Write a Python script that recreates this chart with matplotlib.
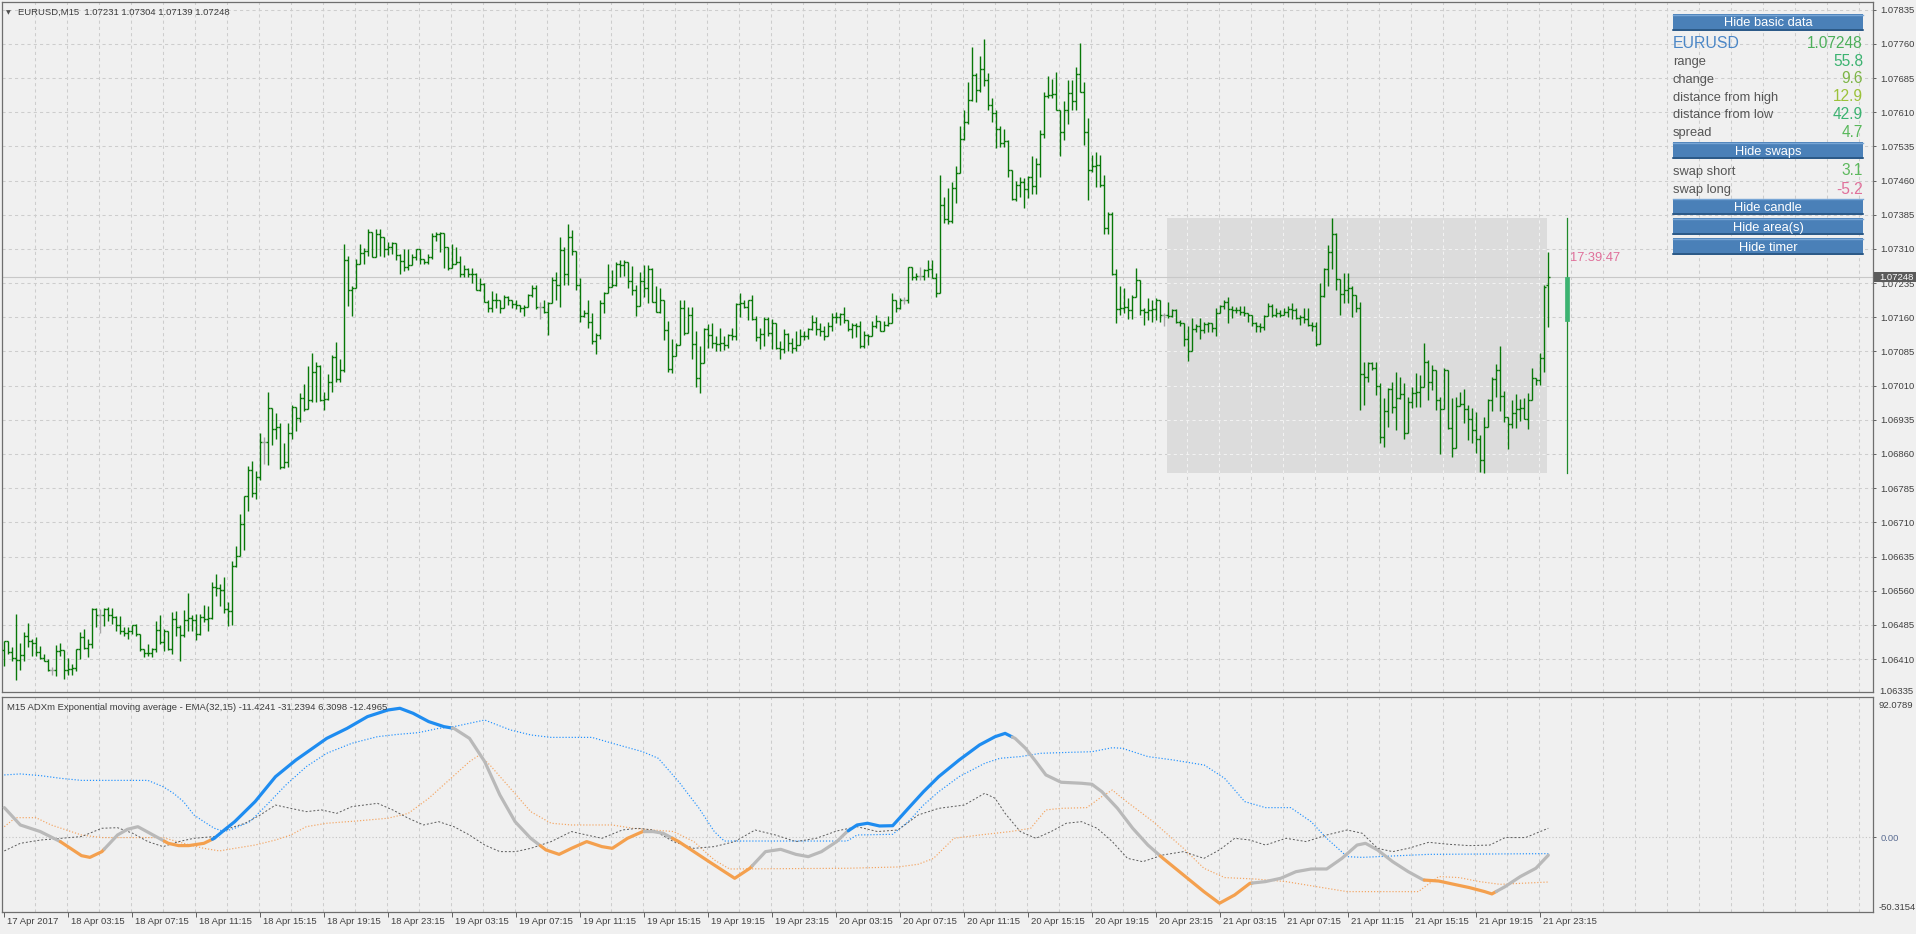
import numpy as np
import matplotlib
matplotlib.use("Agg")
import matplotlib.pyplot as plt
from matplotlib.collections import LineCollection
from matplotlib.patches import Rectangle
from matplotlib.transforms import blended_transform_factory, offset_copy

plt.rcParams['font.family'] = ['Liberation Sans', 'DejaVu Sans']

# ---------------- data (prices in pips above BASE) ----------------
BASE = 1.06000
PIP = 0.0001
SYMBOL = "EURUSD"
TITLE = "EURUSD,M15  1.07231 1.07304 1.07139 1.07248"

HIGH = [44.9, 44.9, 43.6, 50.8, 44.6, 47.0, 48.9, 45.5, 45.8, 43.9,
        42.2, 41.0, 39.3, 44.1, 44.5, 41.4, 41.2, 39.9, 43.2, 46.9,
        47.5, 45.3, 52.1, 52.2, 51.9, 52.1, 52.4, 52.2, 50.5, 50.5,
        48.1, 48.0, 48.5, 48.7, 46.6, 43.2, 44.4, 43.4, 49.4, 50.7,
        47.5, 46.9, 51.4, 51.6, 48.5, 51.8, 55.4, 50.7, 50.9, 50.9,
        52.9, 52.7, 57.9, 59.6, 57.4, 59.1, 53.5, 62.6, 65.9, 72.8,
        76.7, 83.3, 84.5, 82.3, 90.5, 89.8, 99.6, 96.2, 94.9, 92.9,
        88.5, 92.9, 96.7, 96.4, 99.3, 101.4, 105.4, 108.2, 106.1, 105.6,
        99.5, 103.6, 107.7, 110.5, 106.9, 132.2, 129.4, 122.8, 128.9, 132.0,
        131.2, 135.3, 134.7, 135.3, 135.3, 133.6, 132.5, 132.5, 131.4, 130.0,
        131.0, 131.0, 130.0, 131.1, 131.1, 128.9, 129.9, 134.4, 134.8, 134.8,
        132.0, 130.8, 132.1, 131.4, 129.5, 127.5, 126.8, 126.8, 125.7, 124.6,
        123.5, 119.9, 121.8, 121.3, 119.8, 120.9, 120.7, 119.9, 119.8, 118.5,
        118.7, 121.1, 123.1, 123.1, 119.4, 119.8, 119.4, 124.8, 125.9, 133.6,
        131.5, 136.5, 135.2, 130.4, 124.6, 117.6, 119.8, 117.0, 112.5, 119.8,
        121.6, 127.7, 126.4, 128.2, 128.6, 128.6, 128.1, 127.3, 123.1, 126.0,
        127.5, 127.5, 126.8, 122.9, 122.4, 119.8, 115.3, 111.2, 110.3, 119.8,
        119.8, 118.3, 118.3, 113.0, 109.6, 113.6, 114.5, 114.7, 111.8, 113.7,
        111.8, 112.3, 113.6, 119.1, 121.3, 119.9, 119.9, 120.9, 116.3, 113.6,
        116.0, 116.0, 115.6, 114.8, 110.8, 113.4, 112.5, 111.4, 112.9, 113.4,
        112.9, 113.6, 116.5, 116.1, 114.7, 114.1, 114.9, 116.9, 117.2, 117.0,
        118.2, 115.3, 114.7, 114.8, 115.3, 113.0, 112.3, 115.1, 116.5, 115.1,
        115.1, 116.3, 121.4, 119.9, 120.2, 120.5, 127.1, 127.0, 125.7, 127.1,
        126.5, 128.6, 128.6, 125.7, 147.2, 142.5, 144.3, 145.8, 149.2, 158.0,
        161.6, 167.6, 175.3, 169.7, 173.4, 177.1, 169.7, 164.1, 161.5, 158.0,
        157.3, 154.9, 148.3, 145.9, 146.9, 146.5, 147.0, 151.4, 150.9, 157.1,
        165.5, 169.0, 168.2, 169.9, 161.5, 163.5, 168.1, 168.1, 171.0, 176.3,
        167.7, 159.7, 151.6, 152.3, 151.6, 147.2, 139.2, 139.2, 126.5, 122.9,
        122.4, 120.2, 120.9, 126.8, 124.2, 118.0, 120.2, 119.8, 120.2, 118.3,
        116.9, 119.4, 117.8, 117.8, 115.4, 114.7, 114.0, 115.8, 114.5, 115.8,
        115.0, 115.0, 114.7, 118.0, 118.7, 119.9, 120.5, 118.5, 118.3, 118.5,
        118.5, 116.7, 116.5, 115.0, 114.7, 116.5, 119.2, 118.9, 118.0, 117.6,
        118.0, 118.5, 119.1, 118.0, 116.5, 118.0, 118.0, 115.0, 115.0, 123.5,
        126.8, 131.9, 137.7, 134.4, 124.2, 125.8, 125.8, 122.9, 120.9, 119.4,
        106.3, 106.3, 106.3, 106.3, 101.5, 98.2, 100.4, 101.9, 104.1, 103.0,
        101.5, 98.6, 100.8, 103.7, 103.4, 110.3, 106.6, 105.5, 104.4, 98.6,
        104.8, 103.7, 98.2, 98.6, 99.5, 100.2, 96.8, 96.0, 95.3, 90.2,
        94.2, 98.0, 103.0, 105.8, 109.6, 99.8, 94.2, 97.9, 99.2, 98.0,
        98.2, 99.3, 104.8, 102.6, 108.1, 123.1, 130.4]

LOW = [39.5, 42.1, 40.5, 36.5, 38.6, 40.6, 43.6, 41.7, 41.7, 40.9,
       40.6, 38.3, 37.5, 37.3, 41.7, 36.7, 37.5, 37.5, 38.3, 40.9,
       43.2, 41.4, 43.4, 48.0, 46.8, 48.2, 49.4, 48.7, 47.2, 46.5,
       46.1, 45.5, 46.5, 46.1, 42.8, 41.4, 41.7, 41.4, 42.5, 44.4,
       42.7, 43.0, 42.1, 46.1, 40.6, 45.9, 47.2, 47.2, 45.2, 46.3,
       49.1, 47.2, 49.8, 54.9, 52.7, 51.0, 48.3, 48.5, 61.2, 64.1,
       65.0, 73.5, 76.6, 76.2, 80.4, 83.8, 83.5, 87.9, 89.3, 82.6,
       82.9, 83.2, 89.3, 91.0, 93.1, 95.5, 95.8, 97.5, 97.5, 97.7,
       95.6, 97.8, 99.7, 101.7, 101.7, 104.0, 118.5, 116.2, 122.4, 127.6,
       127.7, 129.4, 129.3, 129.2, 129.5, 129.3, 129.7, 129.9, 128.6, 125.5,
       126.2, 126.4, 128.0, 128.6, 127.8, 127.8, 127.8, 128.9, 132.8, 130.4,
       126.8, 126.4, 127.5, 127.8, 124.8, 124.9, 124.8, 123.5, 122.0, 121.8,
       119.3, 117.2, 117.2, 118.0, 117.0, 118.0, 118.7, 118.0, 117.8, 117.2,
       116.3, 118.5, 120.5, 117.8, 115.6, 117.0, 112.2, 119.8, 119.9, 118.3,
       123.1, 123.1, 129.7, 122.0, 115.0, 116.1, 113.6, 110.1, 107.9, 111.2,
       116.9, 121.6, 122.6, 122.9, 124.8, 125.1, 122.4, 121.0, 116.3, 119.8,
       120.4, 119.2, 119.4, 117.2, 116.9, 111.0, 103.9, 103.7, 107.4, 110.1,
       112.1, 112.5, 106.8, 100.8, 99.3, 105.9, 109.2, 109.2, 108.5, 108.5,
       108.8, 109.2, 111.0, 111.0, 116.1, 118.0, 115.4, 115.4, 110.7, 109.0,
       109.8, 111.8, 109.0, 109.0, 106.9, 108.2, 108.5, 108.2, 108.6, 111.0,
       111.0, 111.2, 113.2, 112.1, 111.8, 111.0, 112.3, 112.9, 114.7, 114.3,
       114.7, 112.9, 111.5, 111.6, 109.2, 109.2, 109.9, 112.1, 113.6, 112.9,
       112.9, 114.0, 115.1, 117.2, 117.9, 118.9, 119.1, 124.2, 124.2, 124.1,
       124.3, 124.9, 124.6, 120.5, 121.3, 136.6, 136.5, 136.6, 141.2, 147.6,
       155.0, 158.4, 163.5, 163.3, 165.5, 166.8, 161.5, 158.9, 153.1, 153.4,
       153.3, 146.9, 141.7, 141.6, 142.5, 140.1, 142.1, 143.0, 143.0, 146.9,
       155.3, 164.1, 164.1, 161.5, 151.4, 154.9, 158.4, 161.5, 161.5, 165.4,
       153.8, 141.7, 148.0, 144.7, 144.7, 134.3, 134.3, 125.3, 114.7, 116.5,
       116.9, 115.6, 115.6, 120.4, 116.5, 114.3, 115.4, 115.0, 115.4, 115.0,
       114.1, 115.8, 116.1, 114.7, 114.0, 109.7, 106.4, 108.5, 112.8, 111.2,
       112.6, 112.8, 112.8, 111.8, 116.9, 117.8, 114.8, 115.8, 116.9, 116.5,
       116.3, 115.0, 114.1, 112.8, 112.8, 113.2, 116.2, 116.1, 116.0, 116.1,
       116.5, 116.1, 115.6, 115.6, 114.3, 114.8, 114.0, 113.0, 109.7, 110.3,
       120.5, 122.9, 126.5, 122.0, 116.5, 119.1, 119.1, 116.0, 117.2, 95.7,
       96.8, 101.9, 104.4, 99.0, 88.5, 87.5, 92.0, 94.9, 91.3, 98.1,
       89.2, 96.0, 96.0, 96.4, 96.4, 100.6, 97.9, 100.0, 95.7, 86.0,
       96.0, 91.4, 85.4, 92.7, 96.8, 92.7, 89.1, 88.5, 86.2, 82.1,
       81.9, 92.0, 95.5, 98.6, 95.5, 93.1, 87.0, 91.6, 91.6, 93.3,
       93.6, 91.4, 98.0, 101.1, 101.1, 103.9, 113.9]

CLOSE = [44.9, 42.5, 41.2, 40.8, 41.9, 46.1, 44.9, 44.5, 42.5, 41.3,
         40.6, 38.6, 38.6, 42.7, 42.9, 38.6, 38.9, 39.1, 43.1, 45.8,
         43.4, 44.2, 51.9, 50.7, 50.7, 52.0, 50.7, 50.3, 48.5, 47.2,
         46.8, 47.1, 48.4, 46.6, 43.1, 42.4, 42.3, 43.2, 47.4, 44.7,
         47.1, 43.2, 49.8, 48.0, 46.3, 49.6, 49.9, 49.5, 46.4, 50.2,
         49.7, 49.9, 56.8, 56.5, 56.2, 52.0, 51.6, 61.5, 63.7, 70.7,
         76.7, 82.4, 77.5, 81.0, 88.6, 88.6, 96.2, 91.4, 92.0, 83.2,
         84.3, 90.5, 96.4, 93.8, 98.2, 95.8, 97.8, 103.9, 105.4, 97.8,
         98.0, 101.7, 107.2, 102.5, 104.4, 128.6, 122.0, 122.5, 127.8, 130.1,
         130.5, 134.8, 129.3, 134.2, 133.6, 131.1, 131.4, 132.4, 129.7, 128.4,
         127.1, 127.5, 129.2, 130.9, 128.7, 128.1, 129.2, 133.9, 134.2, 134.4,
         131.4, 126.8, 127.8, 128.2, 125.5, 126.5, 125.5, 125.4, 122.0, 123.3,
         119.3, 118.0, 119.9, 119.7, 118.0, 120.5, 119.8, 118.9, 118.8, 118.0,
         118.3, 120.8, 122.4, 118.3, 118.3, 117.2, 119.2, 124.2, 123.2, 130.8,
         125.5, 133.7, 130.6, 123.1, 116.3, 117.0, 115.0, 110.8, 112.1, 119.2,
         121.3, 122.7, 123.1, 127.7, 127.5, 128.2, 124.0, 122.1, 118.5, 124.0,
         122.4, 126.6, 119.4, 117.2, 119.9, 113.2, 104.6, 107.5, 110.0, 118.0,
         112.5, 116.5, 110.1, 102.6, 105.9, 113.4, 112.1, 110.3, 110.2, 110.4,
         110.0, 112.1, 111.8, 118.9, 119.2, 118.3, 119.8, 115.6, 111.6, 112.3,
         115.6, 112.5, 114.7, 109.2, 109.0, 112.3, 110.3, 109.2, 109.9, 111.8,
         111.9, 113.4, 114.9, 113.4, 113.0, 111.9, 114.2, 116.0, 116.1, 116.7,
         115.4, 113.4, 114.3, 114.1, 109.7, 112.1, 112.0, 114.1, 115.1, 113.0,
         114.3, 114.7, 119.8, 118.0, 119.9, 119.9, 127.0, 124.9, 125.1, 125.1,
         126.4, 126.5, 124.6, 121.4, 140.7, 137.6, 137.2, 144.3, 147.6, 155.1,
         158.9, 163.7, 169.2, 165.9, 170.4, 168.1, 162.6, 160.8, 157.3, 154.3,
         154.6, 148.3, 141.9, 145.1, 145.8, 144.1, 146.9, 144.8, 149.6, 156.2,
         164.6, 164.7, 165.0, 161.6, 156.7, 161.6, 165.2, 163.5, 169.5, 165.5,
         156.7, 148.3, 149.2, 149.4, 145.1, 135.5, 138.6, 125.4, 117.8, 118.0,
         118.2, 117.5, 120.5, 124.2, 117.5, 117.2, 117.6, 117.8, 119.8, 116.5,
         116.5, 116.2, 117.6, 115.0, 114.7, 111.2, 108.5, 113.4, 114.1, 113.2,
         114.5, 114.7, 113.6, 116.9, 118.5, 119.4, 117.8, 117.6, 117.5, 117.1,
         116.9, 116.5, 114.7, 114.1, 113.8, 116.3, 118.5, 116.5, 116.9, 116.6,
         117.2, 117.8, 117.7, 115.8, 116.0, 115.6, 114.3, 114.1, 110.2, 120.7,
         126.6, 130.4, 134.2, 124.4, 121.1, 122.0, 122.4, 120.9, 118.0, 103.5,
         103.0, 105.9, 104.8, 100.9, 89.8, 95.5, 100.2, 96.3, 98.2, 99.1,
         90.5, 97.5, 99.3, 99.5, 100.8, 106.3, 101.9, 104.4, 97.9, 95.8,
         104.4, 91.6, 87.3, 96.5, 97.0, 95.8, 93.6, 91.3, 89.2, 84.7,
         92.0, 97.9, 102.4, 104.4, 98.7, 94.2, 92.6, 94.9, 95.8, 96.0,
         93.6, 97.9, 102.6, 102.3, 107.0, 122.7, 124.8]

OPEN = [43.0, 44.9, 42.5, 41.2, 40.8, 41.9, 46.1, 44.9, 44.5, 42.5,
        41.3, 40.6, 38.6, 38.6, 42.7, 42.9, 38.6, 38.9, 39.1, 43.1,
        45.8, 43.4, 44.2, 51.9, 50.7, 50.7, 52.0, 50.7, 50.3, 48.5,
        47.2, 46.8, 47.1, 48.4, 46.6, 43.1, 42.4, 42.3, 43.2, 47.4,
        44.7, 47.1, 43.2, 49.8, 48.0, 46.3, 49.6, 49.9, 49.5, 46.4,
        50.2, 49.7, 49.9, 56.8, 56.5, 56.2, 52.0, 51.6, 61.5, 63.7,
        70.7, 76.7, 82.4, 77.5, 81.0, 88.6, 88.6, 96.2, 91.4, 92.0,
        83.2, 84.3, 90.5, 96.4, 93.8, 98.2, 95.8, 97.8, 103.9, 105.4,
        97.8, 98.0, 101.7, 107.2, 102.5, 104.4, 128.6, 122.0, 122.5, 127.8,
        130.1, 130.5, 134.8, 129.3, 134.2, 133.6, 131.1, 131.4, 132.4, 129.7,
        128.4, 127.1, 127.5, 129.2, 130.9, 128.7, 128.1, 129.2, 133.9, 134.2,
        134.4, 131.4, 126.8, 127.8, 128.2, 125.5, 126.5, 125.5, 125.4, 122.0,
        123.3, 119.3, 118.0, 119.9, 119.7, 118.0, 120.5, 119.8, 118.9, 118.8,
        118.0, 118.3, 120.8, 122.4, 118.3, 118.3, 117.2, 119.2, 124.2, 123.2,
        130.8, 125.5, 133.7, 130.6, 123.1, 116.3, 117.0, 115.0, 110.8, 112.1,
        119.2, 121.3, 122.7, 123.1, 127.7, 127.5, 128.2, 124.0, 122.1, 118.5,
        124.0, 122.4, 126.6, 119.4, 117.2, 119.9, 113.2, 104.6, 107.5, 110.0,
        118.0, 112.5, 116.5, 110.1, 102.6, 105.9, 113.4, 112.1, 110.3, 110.2,
        110.4, 110.0, 112.1, 111.8, 118.9, 119.2, 118.3, 119.8, 115.6, 111.6,
        112.3, 115.6, 112.5, 114.7, 109.2, 109.0, 112.3, 110.3, 109.2, 109.9,
        111.8, 111.9, 113.4, 114.9, 113.4, 113.0, 111.9, 114.2, 116.0, 116.1,
        116.7, 115.4, 113.4, 114.3, 114.1, 109.7, 112.1, 112.0, 114.1, 115.1,
        113.0, 114.3, 114.7, 119.8, 118.0, 119.9, 119.9, 127.0, 124.9, 125.1,
        125.1, 126.4, 126.5, 124.6, 121.4, 140.7, 137.6, 137.2, 144.3, 147.6,
        155.1, 158.9, 163.7, 169.2, 165.9, 170.4, 168.1, 162.6, 160.8, 157.3,
        154.3, 154.6, 148.3, 141.9, 145.1, 145.8, 144.1, 146.9, 144.8, 149.6,
        156.2, 164.6, 164.7, 165.0, 161.6, 156.7, 161.6, 165.2, 163.5, 169.5,
        165.5, 156.7, 148.3, 149.2, 149.4, 145.1, 135.5, 138.6, 125.4, 117.8,
        118.0, 118.2, 117.5, 120.5, 124.2, 117.5, 117.2, 117.6, 117.8, 119.8,
        116.5, 116.5, 116.2, 117.6, 115.0, 114.7, 111.2, 108.5, 113.4, 114.1,
        113.2, 114.5, 114.7, 113.6, 116.9, 118.5, 119.4, 117.8, 117.6, 117.5,
        117.1, 116.9, 116.5, 114.7, 114.1, 113.8, 116.3, 118.5, 116.5, 116.9,
        116.6, 117.2, 117.8, 117.7, 115.8, 116.0, 115.6, 114.3, 114.1, 110.2,
        120.7, 126.6, 130.4, 134.2, 124.4, 121.1, 122.0, 122.4, 120.9, 118.0,
        103.5, 103.0, 105.9, 104.8, 100.9, 89.8, 95.5, 100.2, 96.3, 98.2,
        99.1, 90.5, 97.5, 99.3, 99.5, 100.8, 106.3, 101.9, 104.4, 97.9,
        95.8, 104.4, 91.6, 87.3, 96.5, 97.0, 95.8, 93.6, 91.3, 89.2,
        84.7, 92.0, 97.9, 102.4, 104.4, 98.7, 94.2, 92.6, 94.9, 95.8,
        96.0, 93.6, 97.9, 102.6, 102.3, 107.0, 123.1]

TIME_LABELS = ["17 Apr 2017", "18 Apr 03:15", "18 Apr 07:15", "18 Apr 11:15", "18 Apr 15:15",
               "18 Apr 19:15", "18 Apr 23:15", "19 Apr 03:15", "19 Apr 07:15", "19 Apr 11:15",
               "19 Apr 15:15", "19 Apr 19:15", "19 Apr 23:15", "20 Apr 03:15", "20 Apr 07:15",
               "20 Apr 11:15", "20 Apr 15:15", "20 Apr 19:15", "20 Apr 23:15", "21 Apr 03:15",
               "21 Apr 07:15", "21 Apr 11:15", "21 Apr 15:15", "21 Apr 19:15", "21 Apr 23:15"]
BARS_PER_LABEL = 16
BARS_PER_GRID = 8

PRICE_TICKS = [1.07835, 1.07760, 1.07685, 1.07610, 1.07535, 1.07460, 1.07385, 1.07310,
               1.07235, 1.07160, 1.07085, 1.07010, 1.06935, 1.06860, 1.06785, 1.06710,
               1.06635, 1.06560, 1.06485, 1.06410]
BOTTOM_PRICE = "1.06335"
LAST_PRICE = 1.07248
DAY_OPEN, DAY_HIGH, DAY_LOW = 1.07152, 1.07377, 1.06819
DAY_START_BAR = 291

# indicator (bar index, value)
IND_TITLE = "M15 ADXm Exponential moving average - EMA(32,15) -11.4241 -31.2394 6.3098 -12.4965"
IND_MAX, IND_MIN = 92.0789, -50.3154
MAIN = [(0, 20.7), (4, 8.6), (9, 4.0), (14, -3.0), (19.3, -12.8), (21.4, -14.0), (24.4, -10.0),
        (28.3, 1.6), (30.8, 5.6), (33.4, 7.4), (37.2, 1.6), (41, -4.2), (43.6, -5.8), (46.1, -5.8),
        (49.9, -4.2), (52.5, -0.7), (55, 5.1), (57.6, 10.9), (62.7, 24.9), (67.8, 42.3), (72.9, 53.9),
        (80.6, 69.0), (85.7, 76.0), (90.8, 84.2), (95.9, 88.8), (98.9, 90.0), (102.2, 86.5),
        (106.1, 80.7), (109.9, 77.2), (112.4, 76.0), (116.3, 69.0), (120.1, 52.8), (123.9, 29.5),
        (127.7, 10.9), (131.6, -0.7), (135.4, -8.8), (138.7, -11.9), (141.8, -7.7), (145.6, -3.0),
        (149.4, -6.5), (152, -7.7), (155.8, -0.7), (159.6, 4.0), (162.2, 4.0), (164.7, 2.8),
        (168.6, -3.0), (172.4, -10.0), (176.2, -17.0), (180, -23.9), (182.6, -28.6), (186.4, -21.6),
        (190.3, -10.0), (194.1, -8.4), (197.9, -11.9), (201, -13.5), (204.3, -10.0), (208.1, -3.0),
        (210.7, 4.0), (213.2, 8.6), (215.8, 9.8), (218.8, 7.9), (222.1, 8.1), (226, 20.2),
        (229.8, 31.8), (233.6, 42.3), (238.7, 53.9), (243.8, 64.4), (247.7, 70.2), (250.2, 72.5),
        (252.7, 69.0), (255.3, 62.1), (257.9, 52.8), (260.4, 43.5), (264.2, 38.4), (269.3, 37.7),
        (271.9, 37.0), (274.4, 31.8), (278.3, 20.2), (282.1, 6.3), (285.9, -5.4), (289.7, -14.7),
        (294.8, -26.3), (299.9, -37.9), (303.8, -46.0), (307.6, -40.2), (311.4, -32.1),
        (315.3, -30.9), (319.1, -28.6), (322.9, -24.0), (326.7, -22.1), (330.6, -22.1),
        (334.4, -14.7), (338.2, -5.4), (340.3, -4.2), (343.3, -8.8), (347.1, -17.0), (351, -24.0),
        (354.8, -29.8), (358.6, -30.5), (362.4, -32.8), (366.3, -35.1), (370.1, -37.9),
        (371.9, -39.5), (375.2, -34.4), (379, -27.4), (382.9, -21.6), (386, -12.5)]
MAIN_STATE = [(0, 'flat'), (14, 'down'), (25, 'flat'), (40, 'down'), (52, 'up'), (112, 'flat'),
              (134, 'down'), (160, 'flat'), (167, 'down'), (187, 'flat'), (211, 'up'), (252, 'flat'),
              (289, 'down'), (312, 'flat'), (355, 'down'), (373, 'flat'), (386, 'end')]
DI_PLUS = [(0, 43.5), (4, 44.2), (9.1, 43.0), (14.2, 41.1), (19.3, 39.7), (35.9, 39.7), (39.7, 35.3),
           (42.3, 30.7), (44.8, 24.9), (47.4, 15.6), (49.9, 10.9), (52.5, 6.3), (55, 4.0), (57.6, 6.3),
           (61.4, 10.9), (65.2, 21.4), (70.4, 36.5), (75.5, 49.3), (80.6, 58.6), (86.9, 65.6),
           (93.3, 70.2), (98.4, 71.8), (103.5, 73.0), (108.6, 76.0), (112.4, 77.2), (120.1, 81.8),
           (126.5, 74.9), (131.6, 71.4), (136.7, 69.7), (146.9, 69.7), (152, 65.6), (159.6, 59.7),
           (163.5, 55.1), (168.6, 38.8), (173.7, 20.2), (177.5, 4.0), (180, -2.6), (210.7, -2.6),
           (213.2, 1.6), (222.1, 2.1), (226, 10.9), (229.8, 22.5), (233.6, 31.8), (238.7, 42.3),
           (245.1, 51.6), (248.9, 55.1), (254, 56.3), (259.1, 58.6), (266.8, 59.3), (271.9, 59.7),
           (277, 62.5), (279.5, 62.1), (285.9, 56.3), (292.3, 53.9), (300, 50.4), (305.1, 41.1),
           (310.1, 24.9), (315.3, 20.7), (321.6, 20.7), (326.7, 10.9), (330.6, -0.7), (335.7, -13.5),
           (339.5, -14.0), (356.1, -11.9), (386, -11.4)]
DI_MINUS = [(0, 7.4), (2.8, 13.7), (7.9, 13.7), (11.7, 8.6), (19.3, 1.6), (24.4, -0.2), (39.7, -0.2),
            (44.8, -4.2), (49.9, -7.7), (53.8, -9.5), (57.6, -7.7), (62.7, -5.4), (67.8, -1.9),
            (71.6, 1.6), (75.5, 7.4), (80.6, 9.8), (88.2, 11.4), (95.9, 13.3), (101, 16.7),
            (106.1, 27.2), (111.2, 40.0), (116.3, 52.8), (118.8, 57.4), (121.4, 50.4), (126.5, 34.2),
            (131.6, 17.9), (136.7, 9.8), (141.8, 8.6), (152, 8.6), (157.1, 6.3), (162.2, 5.1),
            (167.3, 4.0), (172.4, -3.0), (177.5, -15.8), (181.3, -22.1), (210.7, -21.6),
            (223.4, -20.7), (228.5, -18.8), (232.3, -14.7), (237.4, -0.7), (243.8, 1.6), (251.5, 4.0),
            (256.6, 6.3), (260.4, 19.1), (264.2, 20.2), (270.6, 20.7), (274.4, 28.4), (277, 33.0),
            (279.5, 27.2), (287.2, 10.9), (294.8, -7.7), (299.9, -21.6), (305.1, -28.1),
            (312.7, -29.1), (320.4, -30.9), (328, -34.4), (335.7, -37.9), (353.5, -37.9),
            (358.6, -27.4), (363.7, -28.1), (368.8, -30.9), (373.9, -32.8), (386, -31.2)]
ADX_LINE = [(0, -9.5), (4, -4.2), (9.1, -1.9), (14.2, -0.7), (19.3, 0.5), (24.4, 6.3), (28.3, 6.7),
            (32.1, 2.8), (35.9, -3.0), (39.7, -6.5), (43.6, -3.0), (47.4, -0.7), (52.5, 0.5),
            (56.3, 6.3), (60.2, 9.8), (64, 15.6), (67.8, 22.5), (71.6, 20.2), (75.5, 17.9),
            (79.3, 19.1), (83.1, 16.7), (86.9, 21.4), (93.3, 23.7), (97.1, 19.1), (101, 13.3),
            (104.8, 8.6), (108.6, 10.9), (112.4, 7.4), (116.3, 1.6), (120.1, -5.4), (123.9, -10.0),
            (127.8, -10.0), (131.6, -7.7), (136.7, -3.0), (141.8, 4.0), (145.6, 1.6), (149.4, -0.7),
            (154.5, 5.1), (158.4, 6.3), (162.2, 5.1), (167.3, -3.0), (172.4, -7.7), (177.5, -6.5),
            (182.6, -3.0), (187.7, 5.1), (192.8, 1.6), (197.9, -3.0), (203, -0.7), (208.1, 4.4),
            (213.2, 7.4), (218.3, 4.0), (223.4, 5.1), (228.5, 15.6), (233.6, 20.2), (240, 22.5),
            (245.1, 30.7), (247.7, 27.2), (250.2, 16.7), (254, 4.0), (257.9, -0.7), (261.7, 4.0),
            (265.5, 9.8), (269.3, 10.9), (273.2, 6.3), (277, -3.0), (280.8, -14.7), (284.6, -17.0),
            (289.7, -12.3), (294.8, -10.0), (299.9, -14.7), (303.8, -8.8), (307.6, -0.7),
            (311.4, -1.9), (315.3, -5.4), (320.4, -0.7), (325.5, -3.0), (330.6, 1.6), (335.7, 5.1),
            (339.5, 2.8), (343.3, -7.7), (347.1, -10.0), (351, -7.7), (356.1, -3.5), (361.2, -4.9),
            (366.3, -5.8), (371.4, -5.4), (375.2, -0.2), (380.3, -0.2), (386, 6.3)]

INFO_ROWS = [("range", "55.8"), ("change", "9.6"), ("distance from high", "12.9"),
             ("distance from low", "42.9"), ("spread", "4.7")]
SWAP_ROWS = [("swap short", "3.1"), ("swap long", "-5.2")]
BUTTONS = ["Hide basic data", "Hide swaps", "Hide candle", "Hide area(s)", "Hide timer"]
TIMER = "17:39:47"

# ---------------- layout & style ----------------
W, H, DPI = 1916, 934, 100
BG = '#f0f0f0'
GRID = '#cdcdcd'
BAR_GREEN = '#087808'
DOJI = '#a6a6a6'
TXT = '#3c3c3c'
FS_AX = 6.8

fig = plt.figure(figsize=(W / DPI, H / DPI), dpi=DPI, facecolor=BG)


def px_rect(x0, y0, x1, y1):
    return [x0 / W, 1 - y1 / H, (x1 - x0) / W, (y1 - y0) / H]


ax = fig.add_axes(px_rect(2, 2, 1873, 692))
ax2 = fig.add_axes(px_rect(2, 697, 1873, 912))
x_lo = -0.575
x_hi = x_lo + 1871 / 4.0
for a in (ax, ax2):
    a.set_facecolor(BG)
    a.set_xlim(x_lo, x_hi)
    for s in a.spines.values():
        s.set_color('#6e6e6e')
        s.set_linewidth(0.9)

ax.set_ylim(1.063376, 1.078521)
ax2.set_ylim(-52.11, 97.87)

n = len(CLOSE)
O = BASE + np.array(OPEN) * PIP
Hh = BASE + np.array(HIGH) * PIP
Ll = BASE + np.array(LOW) * PIP
C = BASE + np.array(CLOSE) * PIP

grid_x = np.arange(BARS_PER_GRID, x_hi, BARS_PER_GRID) - 0.25
dash = (0, (3, 3))

# main grid
for gx in grid_x:
    ax.axvline(gx, color=GRID, lw=0.75, ls=dash, zorder=1)
    ax2.axvline(gx, color=GRID, lw=0.75, ls=dash, zorder=1)
for gy in PRICE_TICKS:
    ax.axhline(gy, color=GRID, lw=0.75, ls=dash, zorder=1)

# day area
area_x0 = DAY_START_BAR - 0.3
area_x1 = n - 1 - 0.3
ax.add_patch(Rectangle((area_x0, DAY_LOW), area_x1 - area_x0, DAY_HIGH - DAY_LOW,
                       facecolor='#dcdcdc', edgecolor='none', zorder=1.5))
for gx in grid_x:
    if area_x0 < gx < area_x1:
        ax.plot([gx, gx], [DAY_LOW, DAY_HIGH], color='#f2f2f2', lw=0.75, ls=dash, zorder=1.6)
for gy in PRICE_TICKS:
    if DAY_LOW < gy < DAY_HIGH:
        ax.plot([area_x0, area_x1], [gy, gy], color='#f2f2f2', lw=0.75, ls=dash, zorder=1.6)

# bid line
ax.axhline(LAST_PRICE, color='#c8c8c8', lw=0.8, zorder=2)

# OHLC bars
segs, cols = [], []
for i in range(n):
    col = DOJI if abs(CLOSE[i] - OPEN[i]) < 0.05 else BAR_GREEN
    lo = min(Ll[i], O[i], C[i])
    hi = max(Hh[i], O[i], C[i])
    segs.append([(i, lo), (i, hi)])
    segs.append([(i - 0.5, O[i]), (i, O[i])])
    segs.append([(i, C[i]), (i + 0.5, C[i])])
    cols += [col] * 3
ax.add_collection(LineCollection(segs, colors=cols, linewidths=1.0, zorder=3, capstyle='butt'))

# higher timeframe candle
cx = n - 1 + 4.75
ax.plot([cx, cx], [DAY_LOW, DAY_HIGH], color='#1f8a2a', lw=0.9, zorder=3)
ax.add_patch(Rectangle((cx - 0.5, DAY_OPEN), 1.0, LAST_PRICE - DAY_OPEN,
                       facecolor='#3cb371', edgecolor='#3cb371', lw=0.5, zorder=3.1))

# price axis
ax.set_xticks([])
ax.yaxis.tick_right()
ax.set_yticks(PRICE_TICKS)
ax.set_yticklabels([f"{p:.5f}" for p in PRICE_TICKS])
ax.tick_params(axis='y', length=2.5, width=0.7, color='#606060', pad=3,
               labelsize=FS_AX, labelcolor='#404040')

# ---------------- indicator ----------------
ax2.axhline(0, color='#c4c4c4', lw=0.8, ls=(0, (1, 2)), zorder=1)


def unzip(pts):
    return np.array([p[0] for p in pts]), np.array([p[1] for p in pts])


bx, by = unzip(DI_PLUS)
ax2.plot(bx, by, color='#1e90ff', lw=0.85, ls=(0, (1, 1.6)), zorder=2)
ox_, oy_ = unzip(DI_MINUS)
ax2.plot(ox_, oy_, color='#f4a460', lw=0.85, ls=(0, (1, 1.6)), zorder=2)
gx_, gy_ = unzip(ADX_LINE)
ax2.plot(gx_, gy_, color='#5a5a5a', lw=0.7, ls=(0, (2, 2)), zorder=2)

mx, my = unzip(MAIN)
state_col = {'flat': '#b9b9b9', 'down': '#f4a04e', 'up': '#1e8cf0'}
for (s0, st), (s1, _) in zip(MAIN_STATE[:-1], MAIN_STATE[1:]):
    inner = mx[(mx > s0) & (mx < s1)]
    xs = np.concatenate([[s0], inner, [s1]])
    ys = np.interp(xs, mx, my)
    ax2.plot(xs, ys, color=state_col[st], lw=2.3, solid_capstyle='round',
             solid_joinstyle='round', zorder=3)

label_idx = [k * BARS_PER_LABEL for k in range(len(TIME_LABELS))]
ax2.set_xticks(label_idx)
ax2.tick_params(axis='x', direction='out', length=3.5, width=0.7, color='#606060', labelbottom=False)
ax2.yaxis.tick_right()
ax2.set_yticks([0])
ax2.set_yticklabels(['0.00'])
ax2.tick_params(axis='y', length=2.5, width=0.7, color='#606060', pad=3,
                labelsize=FS_AX, labelcolor='#5a6c92')

tr = offset_copy(blended_transform_factory(ax2.transData, ax2.transAxes), fig=fig,
                 x=2.5, y=-12, units='dots')
for k, lab in zip(label_idx, TIME_LABELS):
    ax2.text(k, 0, lab, transform=tr, fontsize=FS_AX, color='#404040', ha='left', va='baseline')

# ---------------- overlay (pixel coordinates) ----------------
ov = fig.add_axes([0, 0, 1, 1], zorder=10)
ov.patch.set_alpha(0)
ov.set_xlim(0, W)
ov.set_ylim(H, 0)
ov.axis('off')

ov.text(6, 14, "\u25BC", fontsize=4.5, color='#505050', family='DejaVu Sans', va='baseline')
ov.text(18, 15, TITLE, fontsize=FS_AX, color=TXT, va='baseline')
ov.text(7, 710, IND_TITLE, fontsize=FS_AX, color=TXT, va='baseline')

ov.text(1879, 691, BOTTOM_PRICE, fontsize=FS_AX, color='#404040', va='center')
ov.text(1879, 706, f"{IND_MAX:.4f}", fontsize=FS_AX, color='#404040', va='center')
ov.text(1879, 907, f"{IND_MIN:.4f}", fontsize=FS_AX, color='#404040', va='center')

# current price box
ov.add_patch(Rectangle((1874, 271.5), 42, 10.5, facecolor='#5c5c5c', edgecolor='none'))
ov.text(1879, 277, f"{LAST_PRICE:.5f}", fontsize=FS_AX, color='white', va='center')

# info panel
PX0, PX1 = 1673, 1863
btn_pos = [(14, 30.7, 26.5), (142, 158.7, 154.8), (198.7, 215, 211), (218.3, 235, 231), (238, 255, 250.7)]
for lab, (y0, y1, yb) in zip(BUTTONS, btn_pos):
    ov.add_patch(Rectangle((PX0, y0), PX1 - PX0, y1 - y0, facecolor='#4a80b8', edgecolor='none'))
    ov.plot([PX0, PX1], [y0 + 0.7, y0 + 0.7], color='#78a6d6', lw=1.0)
    ov.plot([PX0, PX1], [y1 - 0.7, y1 - 0.7], color='#26537f', lw=1.2)
    ov.text((PX0 + PX1) / 2, yb, lab, fontsize=9.3, color='white', ha='center', va='baseline')

ov.text(PX0, 48.3, SYMBOL, fontsize=11.4, color='#4a86c6', va='baseline')
ov.text(PX1, 48.3, f"{LAST_PRICE:.5f}", fontsize=11.2, color='#4caf5a', ha='right', va='baseline')
val_cols = ['#3cb371', '#7db547', '#9cc23a', '#3cb371', '#58b85a']
row_base = [65, 82.5, 100.5, 118.5, 136.3]
for (lab, val), yb, vc in zip(INFO_ROWS, row_base, val_cols):
    ov.text(PX0, yb, lab, fontsize=9.3, color='#555555', va='baseline')
    ov.text(PX1, yb + 0.5, val, fontsize=11.2, color=vc, ha='right', va='baseline')
swap_cols = ['#5cb85c', '#e0709a']
for (lab, val), yb, vc in zip(SWAP_ROWS, [174.5, 193], swap_cols):
    ov.text(PX0, yb, lab, fontsize=9.3, color='#555555', va='baseline')
    ov.text(PX1, yb + 0.8, val, fontsize=11.2, color=vc, ha='right', va='baseline')

ov.text(1570, 261, TIMER, fontsize=9.3, color='#e0709a', va='baseline')

fig.savefig("out.png", dpi=DPI, facecolor=BG)
